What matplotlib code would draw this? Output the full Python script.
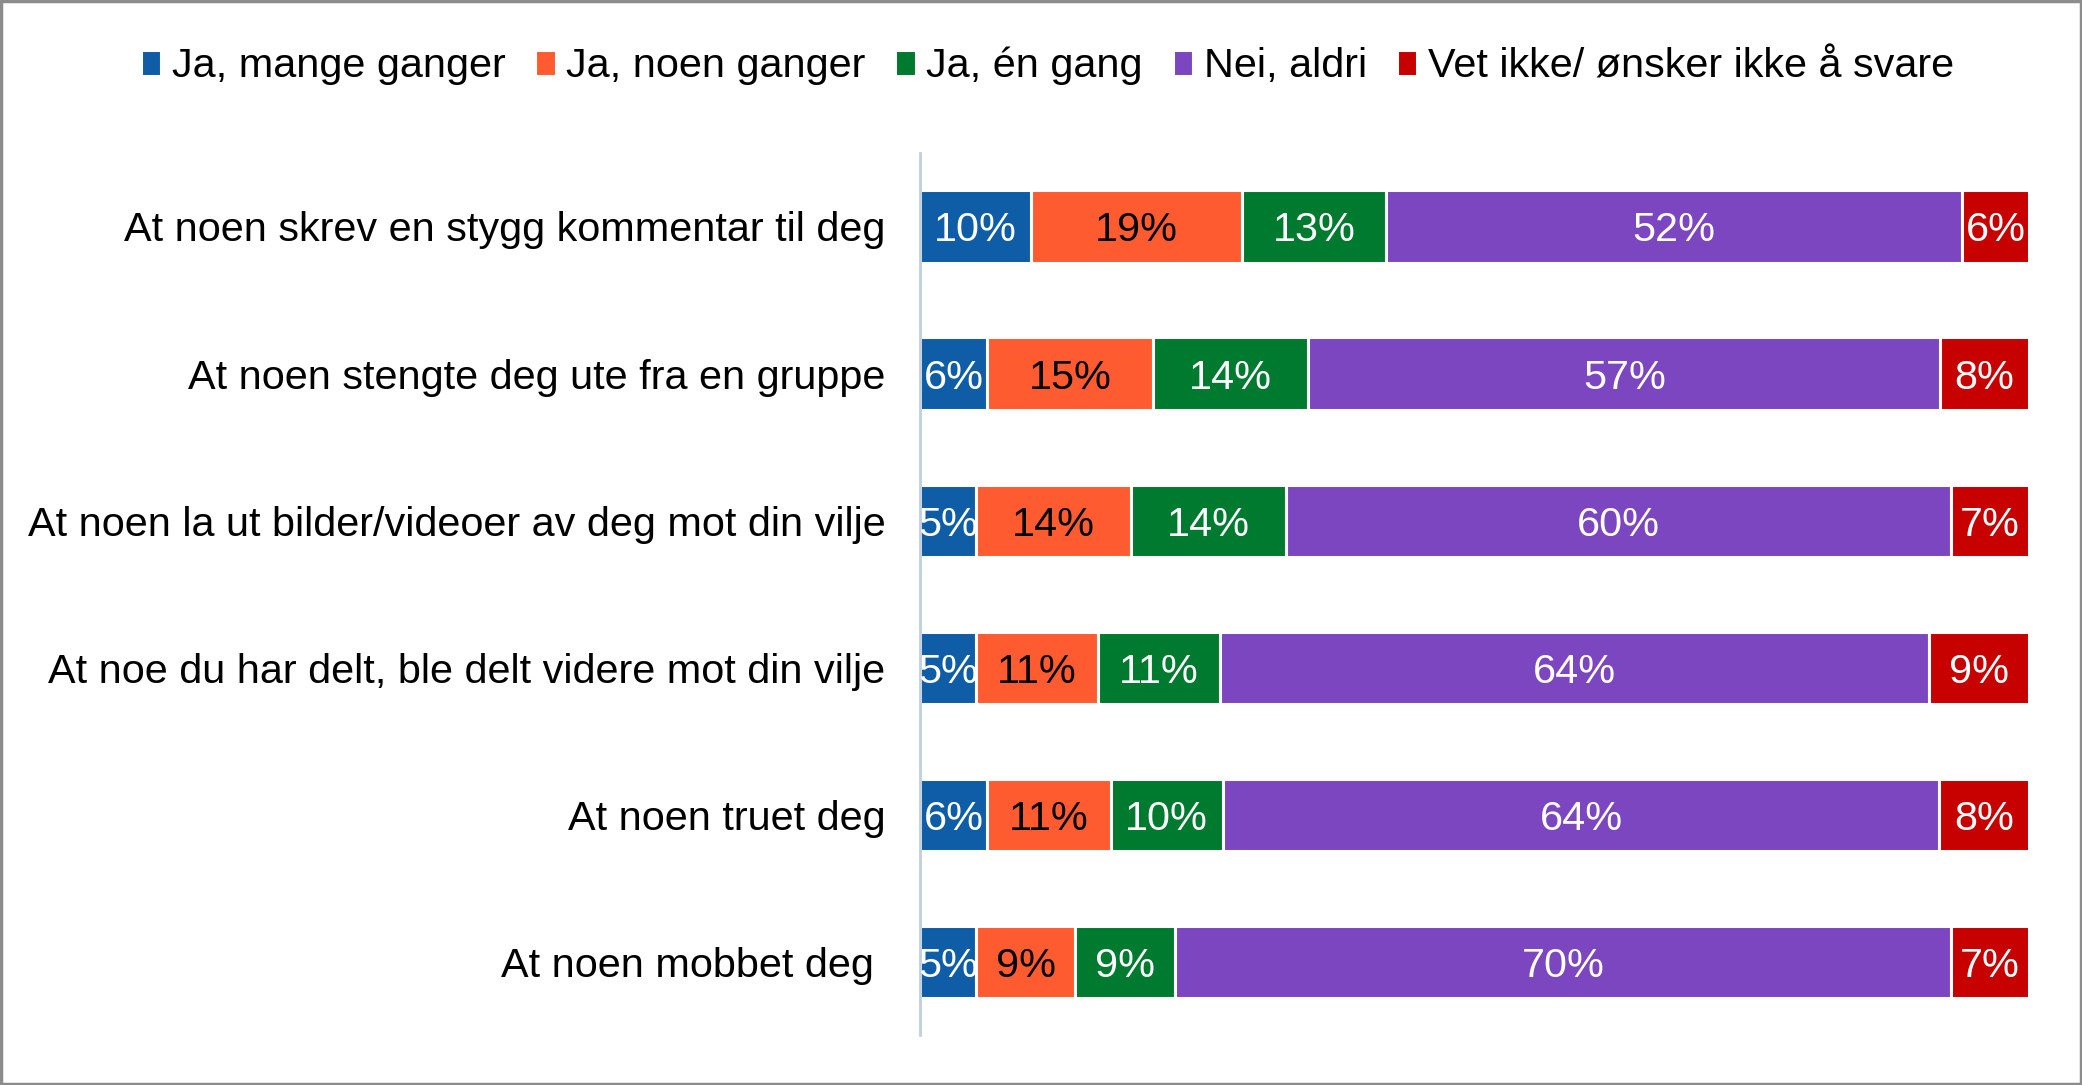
import numpy as np
import matplotlib.pyplot as plt
from matplotlib.patches import Rectangle

plt.rcParams['font.family'] = ['Liberation Sans', 'DejaVu Sans']

# data
kategorier = [
    "At noen skrev en stygg kommentar til deg",
    "At noen stengte deg ute fra en gruppe",
    "At noen la ut bilder/videoer av deg mot din vilje",
    "At noe du har delt, ble delt videre mot din vilje",
    "At noen truet deg",
    "At noen mobbet deg ",
]
svar = ["Ja, mange ganger", "Ja, noen ganger", "Ja, én gang", "Nei, aldri",
        "Vet ikke/ ønsker ikke å svare"]
ja_mange = [10, 6, 5, 5, 6, 5]
ja_noen = [19, 15, 14, 11, 11, 9]
ja_en = [13, 14, 14, 11, 10, 9]
nei_aldri = [52, 57, 60, 64, 64, 70]
vet_ikke = [6, 8, 7, 9, 8, 7]

farger = ["#0F5DA6", "#FF5B30", "#007A2E", "#7B46C0", "#C70000"]
tekstfarger = ["white", "black", "white", "white", "white"]

serier = np.array([ja_mange, ja_noen, ja_en, nei_aldri, vet_ikke], dtype=float)
andel = serier / serier.sum(axis=0) * 100  # 100 % stablet, som i Excel

fs = 29.8

fig = plt.figure(figsize=(20.82, 10.85), dpi=100)
ax = fig.add_axes([0.442, 0.046, 0.9745 - 0.442, 0.859 - 0.046])

y = np.arange(len(kategorier))
venstre = np.zeros(len(kategorier))
for i in range(len(svar)):
    bars = ax.barh(y, andel[i], left=venstre, height=0.49, color=farger[i],
                   edgecolor="white", linewidth=2.2, label=svar[i])
    for j, b in enumerate(bars):
        ax.text(b.get_x() + b.get_width() / 2, b.get_y() + b.get_height() / 2,
                f"{int(serier[i, j])}%", ha="center", va="center_baseline",
                fontsize=fs, color=tekstfarger[i])
    venstre += andel[i]

ax.set_xlim(0, 100)
ax.set_ylim(len(kategorier) - 0.5, -0.5)
ax.set_yticks(y)
ax.set_yticklabels(kategorier, fontsize=fs, va="center_baseline")
ax.tick_params(axis="y", length=0, pad=25)
ax.set_xticks([])
for side in ["top", "right", "bottom"]:
    ax.spines[side].set_visible(False)
ax.spines["left"].set_color("#BFCFDF")
ax.spines["left"].set_linewidth(2)

fig.legend(loc="center", bbox_to_anchor=(0.503, 0.939), ncol=5, frameon=False,
           fontsize=fs, handlelength=0.5, handleheight=0.6,
           handletextpad=0.25, columnspacing=0.72)

# ramme rundt figuren
fig.patches.append(Rectangle((0.0005, 0.001), 0.999, 0.998, transform=fig.transFigure,
                             fill=False, edgecolor="#8C8C8C", linewidth=2.5))

fig.savefig("out.png", dpi=100)
